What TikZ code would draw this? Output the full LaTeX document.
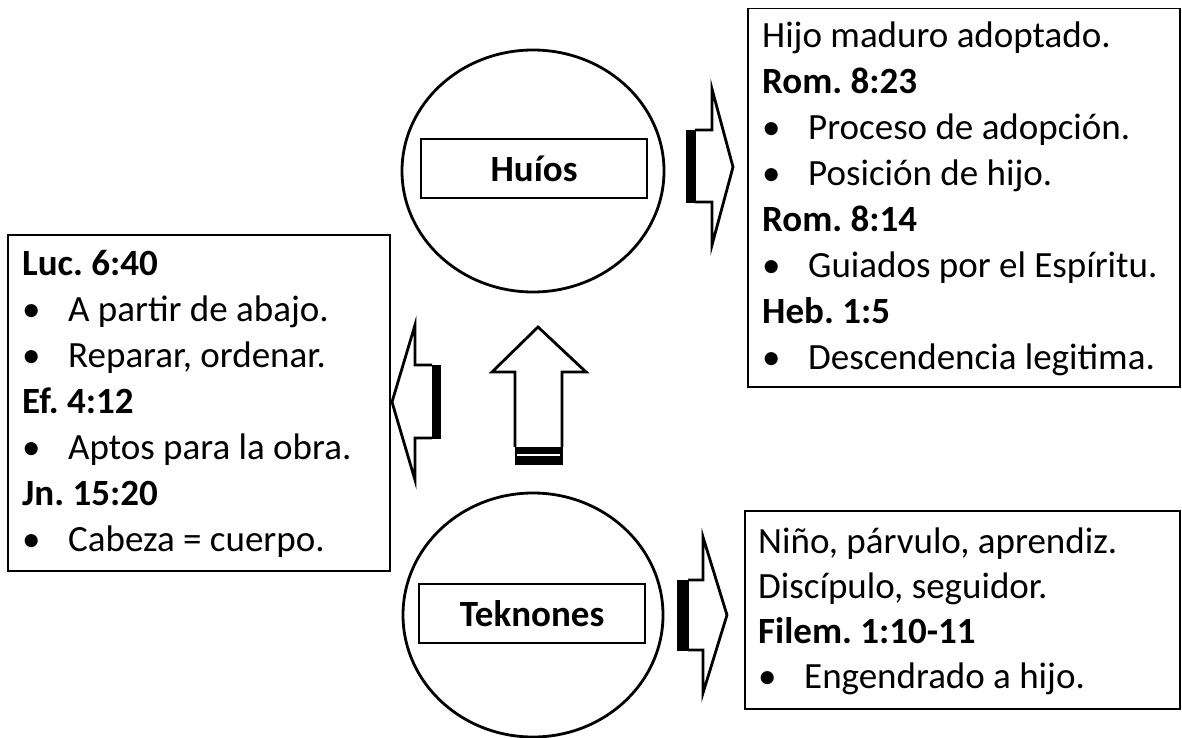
\documentclass[tikz,border=0pt]{standalone}
\usepackage{fontspec}
\setmainfont{Carlito}
\usetikzlibrary{shapes.geometric}
\newcommand{\bl}[1]{\hbox{\makebox[46pt][l]{•}#1}}
\newcommand{\pl}[1]{\hbox{#1}}
\newcommand{\bd}[1]{\hbox{\bfseries #1}}
\newcommand{\txtblock}[2][46pt]{\vtop{\baselineskip=#1\relax #2}}
\frenchspacing
\begin{document}
\begin{tikzpicture}[x=1pt,y=-1pt,
  txt/.style={anchor=base west, inner sep=0pt, font=\fontsize{37}{46}\selectfont\frenchspacing},
  textbox/.style={draw, line width=1.5pt, inner sep=0pt, anchor=north west},
  blob/.style={ellipse, draw, line width=2.8pt, inner sep=0pt},
  label/.style={draw, line width=1.2pt, inner sep=0pt, font=\fontsize{37}{44}\selectfont\bfseries},
  arrowline/.style={draw, line width=2.8pt, line join=miter, fill=white},
  stripe/.style={fill=black, draw=black, line width=0.8pt}]
\useasboundingbox (0,0) rectangle (1182,738);

% circles
\node[blob, minimum width=262pt, minimum height=242pt] (huiosC) at (533,171) {};
\node[blob, minimum width=260pt, minimum height=244pt] (teknC) at (533,615) {};
\node[label, minimum width=226pt, minimum height=59pt] (huios) at (534,168.5) {Huíos};
\node[label, minimum width=226pt, minimum height=59pt] (tekn) at (532,613.5) {Teknones};

% text boxes
\node[textbox, minimum width=432pt, minimum height=378pt] (trbox) at (747,8) {};
\node[textbox, minimum width=382pt, minimum height=336pt] (lbox) at (7,234) {};
\node[textbox, minimum width=435pt, minimum height=198pt] (brbox) at (744,510) {};

\node[txt] (trtext) at (762,48) {\txtblock{%
  \pl{Hijo maduro adoptado.}
  \bd{Rom. 8:23}
  \bl{Proceso de adopción.}
  \bl{Posición de hijo.}
  \bd{Rom. 8:14}
  \bl{Guiados por el Espíritu.}
  \bd{Heb. 1:5}
  \bl{Descendencia legitima.}}};

\node[txt] (ltext) at (22,275) {\txtblock{%
  \bd{Luc. 6:40}
  \bl{A partir de abajo.}
  \bl{Reparar, ordenar.}
  \bd{Ef. 4:12}
  \bl{Aptos para la obra.}
  \bd{Jn. 15:20}
  \bl{Cabeza = cuerpo.}}};

\node[txt] (brtext) at (758,553) {\txtblock[45.3pt]{%
  \pl{Niño, párvulo, aprendiz.}
  \pl{Discípulo, seguidor.}
  \bd{Filem. 1:10-11}
  \bl{Engendrado a hijo.}}};

% striped arrow: Huios -> top right box
\path[arrowline] (695,130) -- (712,130) -- (712,89) -- (733,167) -- (712,245) -- (712,202) -- (695,202);
\path[stripe] (686,130) rectangle (695,202);

% striped arrow: Teknones -> bottom right box
\path[arrowline] (688,580) -- (703,580) -- (703,537) -- (727,615) -- (703,693) -- (703,650) -- (688,650);
\path[stripe] (677,580) rectangle (688,650);

% striped arrow: to left box
\path[arrowline] (432,365) -- (415,365) -- (415,325) -- (392,402) -- (415,480) -- (415,438) -- (432,438);
\path[stripe] (432,365) rectangle (440,438);

% striped arrow: up
\path[arrowline] (515,447) -- (515,372) -- (492,372) -- (538,327) -- (586,372) -- (562,372) -- (562,447);
\path[stripe] (515,447) rectangle (562,464);
\draw[white, line width=1.2pt] (517,455) -- (560,455);
\end{tikzpicture}
\end{document}
